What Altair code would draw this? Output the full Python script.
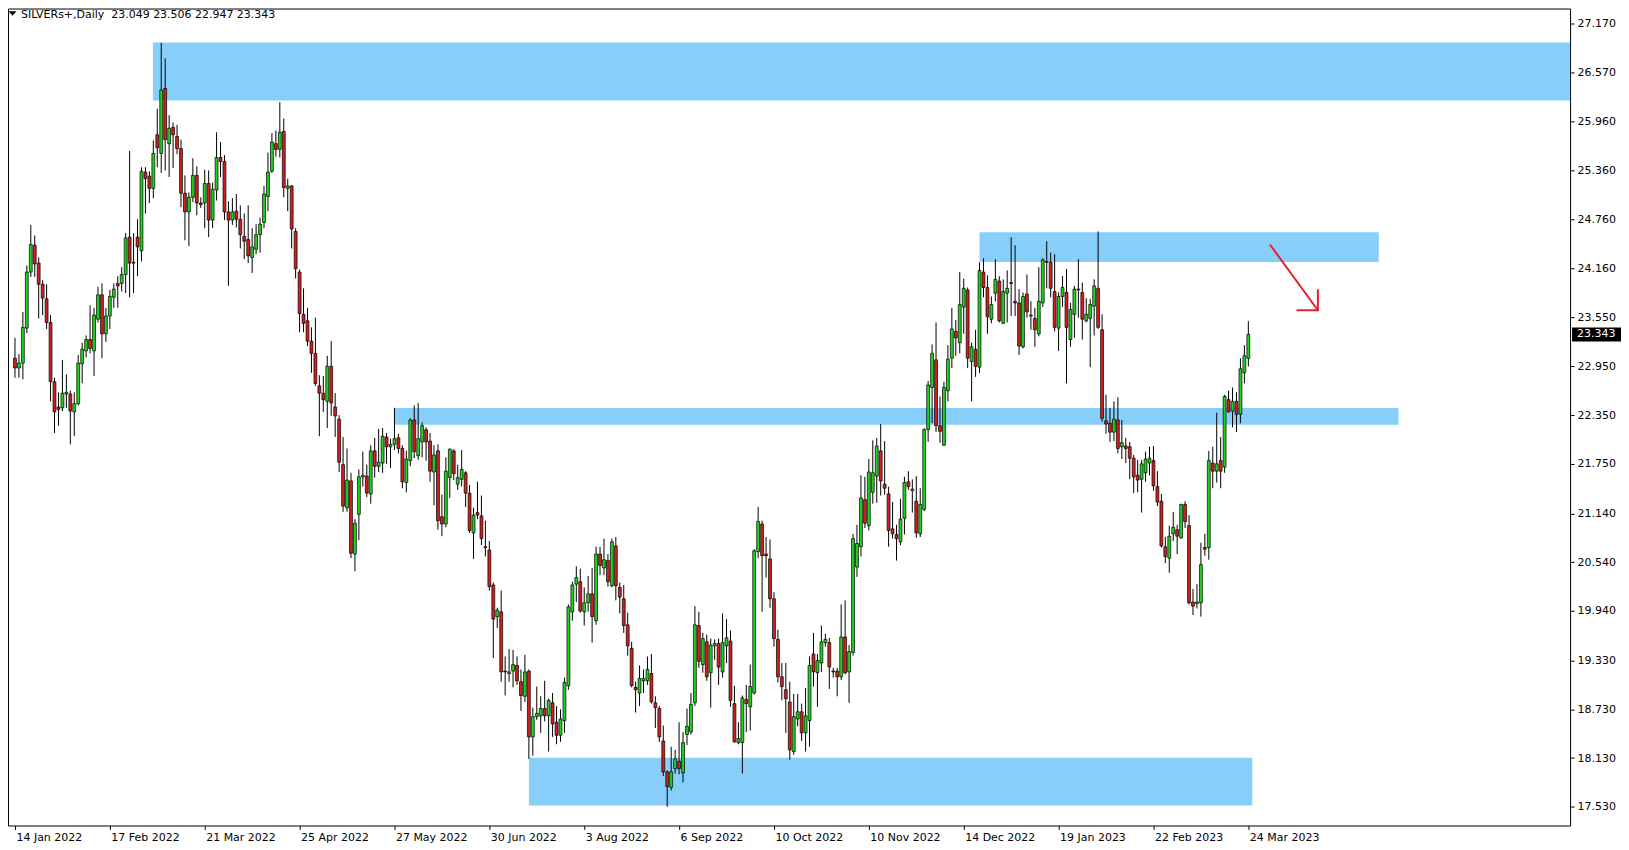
import altair as alt
import pandas as pd

symbol = "SILVERs+,Daily"

opens = [
    23.05, 22.93, 22.99, 23.42, 24.11, 24.44, 24.22, 23.96, 23.78, 23.49,
    22.76, 22.45, 22.44, 22.61, 22.61, 22.39, 22.49, 22.98, 23.14, 23.28,
    23.14, 23.53, 23.83, 23.35, 23.57, 23.80, 23.97, 23.97, 24.08, 24.54,
    24.23, 24.54, 24.37, 25.34, 25.29, 25.14, 25.80, 25.57, 26.37, 25.69,
    25.89, 25.78, 25.63, 25.08, 24.85, 25.03, 25.30, 24.96, 24.96, 25.20,
    24.75, 25.12, 25.52, 25.47, 24.85, 24.75, 24.86, 24.76, 24.55, 24.51,
    24.29, 24.39, 24.57, 24.72, 25.04, 25.35, 25.69, 25.62, 25.84, 25.14,
    25.17, 24.61, 24.11, 23.59, 23.51, 23.26, 23.11, 22.71, 22.62, 22.52,
    22.95, 22.45, 22.30, 21.74, 21.21, 21.54, 20.64, 21.13, 21.59, 21.60,
    21.38, 21.91, 21.72, 21.76, 22.08, 21.96, 21.99, 22.07, 21.94, 21.52,
    21.79, 22.29, 21.85, 22.02, 22.17, 22.03, 21.65, 21.91, 21.10, 21.01,
    21.58, 21.91, 21.50, 21.56, 21.64, 21.39, 20.90, 21.15, 21.11, 20.73,
    20.69, 20.26, 19.87, 19.93, 19.20, 19.17, 19.20, 19.27, 19.07, 18.89,
    19.20, 18.39, 18.64, 18.65, 18.74, 18.65, 18.81, 18.57, 18.41, 18.59,
    19.02, 19.93, 20.27, 20.30, 19.93, 20.04, 20.15, 19.82, 20.64, 20.47,
    20.56, 20.25, 20.74, 20.23, 20.09, 19.77, 19.48, 19.00, 18.93, 19.08,
    19.08, 19.17, 18.81, 18.74, 18.34, 17.96, 17.77, 18.00, 18.09, 17.95,
    18.42, 18.45, 18.81, 19.76, 19.28, 19.56, 19.18, 19.51, 19.54, 19.19,
    19.51, 19.57, 18.80, 18.32, 18.32, 18.85, 18.76, 18.93, 20.67, 21.01,
    20.64, 20.58, 20.09, 19.59, 19.13, 18.97, 18.82, 18.21, 18.61, 18.70,
    18.44, 18.59, 19.41, 19.18, 19.30, 19.55, 19.55, 19.20, 19.20, 19.13,
    19.62, 19.19, 19.43, 20.48, 20.73, 21.31, 20.99, 21.40, 21.60, 21.91,
    21.50, 21.38, 20.95, 20.88, 20.79, 21.08, 21.53, 21.42, 21.29, 20.89,
    21.19, 22.17, 22.69, 23.03, 22.22, 21.98, 22.65, 23.05, 23.38, 23.24,
    23.68, 23.89, 23.01, 23.16, 22.94, 24.11, 23.92, 23.53, 23.85, 24.00,
    23.48, 23.85, 23.98, 23.75, 23.73, 23.19, 23.84, 23.58, 23.54, 23.35,
    23.73, 24.24, 24.23, 23.87, 23.42, 23.81, 23.86, 23.28, 23.59, 23.90,
    23.86, 23.51, 23.54, 23.69, 23.91, 23.40, 22.28, 22.25, 22.14, 22.29,
    21.96, 21.97, 21.96, 21.82, 21.61, 21.56, 21.64, 21.76, 21.79, 21.47,
    21.29, 20.73, 20.59, 20.89, 20.94, 20.84, 21.25, 20.99, 20.05, 20.03,
    20.04, 20.72, 20.72, 21.76, 21.66, 21.79, 21.71, 22.54, 22.40, 22.52,
    22.36, 22.87, 23.049,
]

highs = [
    23.30, 23.10, 23.62, 24.19, 24.69, 24.56, 24.29, 24.01, 23.96, 23.58,
    22.81, 22.63, 23.03, 22.85, 22.65, 22.63, 23.09, 23.24, 23.33, 23.70,
    23.67, 23.93, 23.97, 23.67, 23.89, 23.97, 24.06, 24.17, 24.59, 25.60,
    24.59, 24.76, 25.40, 25.40, 25.35, 25.73, 26.12, 26.93, 26.74, 26.04,
    25.95, 25.92, 25.74, 25.30, 25.09, 25.51, 25.41, 25.03, 25.37, 25.36,
    25.21, 25.83, 25.71, 25.55, 24.98, 25.02, 25.07, 24.93, 24.83, 24.93,
    24.65, 24.70, 24.78, 25.17, 25.58, 25.82, 25.85, 26.20, 26.00, 25.26,
    25.18, 24.65, 24.14, 23.91, 23.67, 23.43, 23.55, 22.84, 22.83, 23.08,
    23.26, 22.62, 22.35, 22.08, 21.94, 21.64, 21.07, 21.68, 21.90, 21.74,
    21.98, 22.07, 22.18, 22.19, 22.13, 22.06, 22.44, 22.12, 21.98, 21.91,
    22.31, 22.47, 22.50, 22.26, 22.20, 22.13, 21.98, 21.99, 21.37, 21.83,
    21.94, 21.93, 21.74, 21.92, 21.66, 21.49, 21.21, 21.53, 21.36, 21.05,
    20.80, 20.29, 19.98, 20.19, 19.38, 19.47, 19.46, 19.38, 19.22, 19.40,
    19.22, 18.75, 19.01, 18.89, 19.08, 18.86, 18.93, 18.77, 18.73, 19.12,
    20.02, 20.30, 20.49, 20.46, 20.23, 20.37, 20.47, 20.73, 20.73, 20.83,
    20.64, 20.83, 20.85, 20.29, 20.26, 19.92, 19.56, 19.07, 19.27, 19.22,
    19.38, 19.41, 18.89, 18.77, 18.53, 17.98, 18.27, 18.23, 18.57, 18.45,
    18.74, 18.93, 20.00, 19.93, 19.67, 19.65, 19.60, 19.59, 19.60, 19.91,
    19.84, 19.70, 19.02, 18.57, 18.90, 19.03, 19.28, 20.70, 21.22, 21.05,
    20.85, 20.82, 20.17, 19.71, 19.30, 19.30, 19.07, 18.92, 18.92, 18.80,
    18.99, 19.38, 19.67, 19.41, 19.76, 19.66, 19.61, 19.24, 19.24, 20.02,
    20.07, 19.52, 20.89, 21.00, 21.61, 21.59, 21.81, 22.04, 22.07, 22.24,
    22.03, 21.47, 21.28, 21.00, 21.32, 21.59, 21.66, 21.56, 21.60, 21.45,
    22.19, 22.77, 23.22, 23.49, 22.58, 22.76, 23.21, 23.67, 23.52, 24.11,
    24.03, 23.92, 23.24, 23.40, 24.23, 24.28, 24.07, 23.81, 24.27, 24.06,
    24.02, 24.13, 24.54, 24.44, 23.90, 23.86, 24.08, 23.75, 23.67, 24.17,
    24.28, 24.49, 24.35, 24.33, 23.86, 24.06, 24.15, 23.73, 23.94, 24.27,
    23.98, 23.79, 23.78, 24.02, 24.61, 23.59, 22.60, 22.44, 22.52, 22.57,
    22.29, 22.07, 22.02, 21.86, 21.80, 21.80, 21.90, 21.96, 21.97, 21.66,
    21.38, 20.85, 20.99, 21.16, 21.00, 21.26, 21.29, 21.12, 20.21, 20.27,
    20.78, 20.89, 21.91, 21.96, 22.38, 22.08, 22.60, 22.65, 22.69, 22.63,
    23.05, 23.21, 23.506,
]

lows = [
    22.81, 22.81, 22.79, 23.36, 24.05, 24.05, 23.54, 23.58, 23.41, 22.52,
    22.13, 22.22, 22.40, 22.44, 21.99, 22.09, 22.47, 22.74, 23.06, 23.11,
    22.83, 23.49, 23.05, 23.25, 23.41, 23.67, 23.67, 23.87, 23.85, 23.80,
    23.85, 24.06, 24.24, 24.83, 24.96, 25.02, 25.40, 25.33, 25.36, 25.28,
    25.39, 25.56, 24.91, 24.50, 24.43, 24.97, 24.81, 24.90, 24.65, 24.54,
    24.65, 24.99, 25.28, 24.75, 23.94, 24.69, 24.66, 24.40, 24.27, 24.22,
    24.10, 24.33, 24.35, 24.65, 24.86, 25.33, 25.53, 25.52, 25.03, 24.86,
    24.40, 24.03, 23.37, 23.37, 23.20, 22.87, 22.71, 22.09, 22.39, 22.19,
    22.34, 22.08, 21.65, 21.16, 21.16, 20.59, 20.43, 20.81, 21.47, 21.34,
    21.26, 21.58, 21.65, 21.64, 21.75, 21.70, 21.92, 21.88, 21.45, 21.40,
    21.72, 21.82, 21.80, 21.83, 21.79, 21.53, 21.24, 20.94, 20.86, 20.97,
    21.33, 21.55, 21.43, 21.47, 21.22, 20.90, 20.58, 21.07, 20.75, 20.61,
    20.19, 19.36, 19.73, 19.07, 18.90, 19.07, 19.00, 19.03, 18.71, 18.82,
    18.12, 18.16, 18.60, 18.44, 18.58, 18.21, 18.39, 18.30, 18.33, 18.44,
    18.97, 19.82, 20.05, 19.92, 19.76, 19.93, 19.55, 19.77, 20.38, 20.38,
    20.24, 20.23, 20.07, 19.91, 19.67, 19.39, 19.00, 18.69, 18.77, 18.93,
    19.03, 18.80, 18.50, 18.33, 17.91, 17.53, 17.73, 17.94, 17.93, 17.83,
    18.29, 18.42, 18.77, 19.24, 19.18, 19.08, 18.75, 19.34, 19.03, 19.12,
    19.30, 18.76, 18.32, 18.30, 17.94, 18.45, 18.47, 18.91, 20.59, 19.93,
    20.35, 19.98, 19.50, 19.06, 18.84, 18.44, 18.11, 18.17, 18.52, 18.34,
    18.21, 18.27, 19.01, 18.76, 19.19, 19.50, 18.98, 19.12, 18.89, 19.09,
    19.16, 18.81, 19.39, 20.36, 20.61, 20.96, 20.93, 21.26, 21.27, 21.36,
    21.37, 20.73, 20.83, 20.56, 20.75, 20.88, 21.43, 21.15, 20.84, 20.85,
    21.17, 22.02, 22.25, 22.14, 22.01, 21.97, 22.52, 22.93, 23.08, 23.11,
    23.35, 22.93, 22.52, 22.82, 22.87, 23.80, 23.35, 23.48, 23.75, 23.49,
    23.47, 23.49, 23.57, 23.57, 23.09, 23.17, 23.55, 23.40, 23.19, 23.32,
    23.68, 23.91, 23.80, 23.38, 23.14, 23.68, 22.74, 23.19, 23.30, 23.55,
    23.28, 23.49, 22.94, 23.33, 23.41, 22.27, 22.12, 22.02, 22.03, 21.88,
    21.81, 21.76, 21.56, 21.39, 21.40, 21.15, 21.53, 21.61, 21.42, 21.23,
    20.72, 20.53, 20.41, 20.80, 20.64, 20.83, 20.96, 20.02, 19.89, 19.97,
    19.87, 20.62, 20.57, 21.45, 21.52, 21.45, 21.64, 22.38, 22.20, 22.14,
    22.25, 22.74, 22.947,
]

closes = [
    22.93, 22.99, 23.43, 24.11, 24.45, 24.21, 23.96, 23.79, 23.49, 22.76,
    22.39, 22.42, 22.62, 22.63, 22.40, 22.49, 22.99, 23.16, 23.28, 23.17,
    23.58, 23.83, 23.35, 23.57, 23.81, 23.90, 23.94, 24.08, 24.53, 24.22,
    24.22, 24.42, 25.35, 25.26, 25.14, 25.57, 25.64, 26.35, 25.74, 25.88,
    25.80, 25.63, 25.08, 24.85, 25.03, 25.30, 24.96, 24.94, 25.20, 24.75,
    25.13, 25.52, 25.47, 24.85, 24.75, 24.85, 24.76, 24.57, 24.49, 24.31,
    24.42, 24.57, 24.70, 25.07, 25.34, 25.71, 25.62, 25.83, 25.15, 25.17,
    24.64, 24.15, 23.60, 23.48, 23.26, 23.11, 22.74, 22.62, 22.54, 22.95,
    22.50, 22.34, 21.77, 21.23, 21.55, 20.65, 21.02, 21.59, 21.61, 21.39,
    21.91, 21.72, 21.77, 22.09, 21.96, 21.99, 22.06, 21.94, 21.53, 21.81,
    22.29, 21.90, 22.06, 22.22, 22.02, 21.66, 21.86, 21.05, 21.01, 21.66,
    21.93, 21.63, 21.58, 21.68, 21.39, 20.93, 21.12, 21.12, 20.83, 20.72,
    20.24, 19.84, 19.95, 19.19, 19.19, 19.19, 19.28, 19.08, 18.90, 19.19,
    18.39, 18.64, 18.68, 18.74, 18.65, 18.84, 18.55, 18.41, 18.61, 19.06,
    19.99, 20.26, 20.35, 19.94, 20.04, 20.15, 19.87, 20.64, 20.50, 20.57,
    20.30, 20.79, 20.25, 20.11, 19.76, 19.51, 19.02, 18.97, 19.11, 19.11,
    19.22, 18.82, 18.75, 18.39, 17.96, 17.78, 17.96, 18.12, 18.00, 18.32,
    18.52, 18.79, 19.77, 19.32, 19.60, 19.13, 19.52, 19.54, 19.25, 19.55,
    19.61, 18.84, 18.33, 18.37, 18.87, 18.80, 19.01, 20.68, 21.04, 20.62,
    20.62, 20.09, 19.60, 19.13, 19.01, 18.86, 18.23, 18.64, 18.70, 18.44,
    18.65, 19.27, 19.19, 19.33, 19.56, 19.59, 19.25, 19.19, 19.13, 19.62,
    19.18, 19.44, 20.83, 20.77, 21.33, 21.02, 21.65, 21.64, 21.97, 21.54,
    21.45, 20.93, 20.89, 20.83, 21.07, 21.52, 21.47, 21.44, 20.90, 21.25,
    22.17, 22.72, 23.11, 22.22, 22.15, 22.69, 23.04, 23.41, 23.30, 23.71,
    23.91, 23.05, 23.19, 22.95, 24.13, 23.92, 23.56, 23.71, 24.02, 23.51,
    23.87, 23.91, 23.97, 23.73, 23.20, 23.81, 23.62, 23.57, 23.40, 23.75,
    24.26, 24.23, 23.91, 23.43, 23.81, 23.92, 23.43, 23.65, 23.90, 23.89,
    23.53, 23.59, 23.71, 23.94, 23.43, 22.31, 22.24, 22.14, 22.30, 21.94,
    22.01, 21.94, 21.82, 21.59, 21.55, 21.75, 21.81, 21.82, 21.48, 21.28,
    20.74, 20.61, 20.86, 20.97, 20.86, 21.25, 21.04, 20.04, 20.00, 20.05,
    20.51, 20.70, 21.79, 21.66, 21.75, 21.66, 22.58, 22.39, 22.52, 22.36,
    22.92, 23.08, 23.343,
]

date_labels = [
    "14 Jan 2022", "17 Feb 2022", "21 Mar 2022", "25 Apr 2022", "27 May 2022",
    "30 Jun 2022", "3 Aug 2022", "6 Sep 2022", "10 Oct 2022", "10 Nov 2022",
    "14 Dec 2022", "19 Jan 2023", "22 Feb 2023", "24 Mar 2023",
]
bars_per_label = 24

price_ticks = [
    17.530, 18.130, 18.730, 19.330, 19.940, 20.540, 21.140, 21.750, 22.350,
    22.950, 23.550, 24.160, 24.760, 25.360, 25.960, 26.570, 27.170,
]

# supply / demand zones (bar index span, price span)
zone_start = [34.9, 96.0, 130.0, 244.0]
zone_end = [400.0, 350.0, 313.0, 345.0]
zone_top = [26.935, 22.437, 18.135, 24.600]
zone_bottom = [26.222, 22.231, 17.545, 24.235]

# hand-drawn red arrow (three strokes)
arrow_x = [317.6, 324.4, 329.6]
arrow_x2 = [329.6, 329.6, 329.6]
arrow_y = [24.44, 23.64, 23.89]
arrow_y2 = [23.64, 23.64, 23.64]

UP = "#1ed21e"
DOWN = "#d21e1e"
ZONE = "#87cefa"
ARROW = "#e8202a"
FONT = "DejaVu Sans"
W, H = 1564, 818

n = len(opens)
assert len(highs) == n and len(lows) == n and len(closes) == n

candles = pd.DataFrame({
    "bar": list(range(n)),
    "open": opens,
    "high": highs,
    "low": lows,
    "close": closes,
})
candles["dir"] = ["up" if c >= o else "down" for o, c in zip(opens, closes)]

zones = pd.DataFrame({"x1": zone_start, "x2": zone_end, "top": zone_top, "bottom": zone_bottom})
arrow = pd.DataFrame({"x": arrow_x, "x2": arrow_x2, "y": arrow_y, "y2": arrow_y2})
header = pd.DataFrame({
    "label": [symbol + "\u00a0\u00a0" + " ".join(f"{v:.3f}" for v in (opens[-1], highs[-1], lows[-1], closes[-1]))]
})
last = pd.DataFrame({"close": [closes[-1]], "label": [f"{closes[-1]:.3f}"]})

xscale = alt.Scale(domain=[-0.5, 392.125], nice=False, zero=False)
yscale = alt.Scale(domain=[17.300, 27.353], nice=False, zero=False)

label_expr = "[" + ",".join("'%s'" % d for d in date_labels) + "][round(datum.value / %d)]" % bars_per_label

xaxis = alt.Axis(
    values=[i * bars_per_label for i in range(len(date_labels))],
    labelExpr=label_expr, title=None, grid=False, domain=False,
    tickSize=4, tickColor="black", tickWidth=1,
    labelAlign="left", labelBaseline="top", labelPadding=2, labelOffset=1,
    labelFont=FONT, labelFontSize=11, labelColor="black",
    labelOverlap=False, labelFlush=False, labelBound=False,
)
yaxis = alt.Axis(
    orient="right", values=price_ticks, format=".3f", title=None, grid=False,
    domain=False, tickSize=4, tickColor="black", tickWidth=1, labelPadding=3,
    labelFont=FONT, labelFontSize=11, labelColor="black",
    labelOverlap=False, labelFlush=False, labelBaseline="middle",
)


def X(field):
    return alt.X(field, type="quantitative", scale=xscale, axis=xaxis)


def Y(field):
    return alt.Y(field, type="quantitative", scale=yscale, axis=yaxis)


zone_layer = alt.Chart(zones).mark_rect(color=ZONE, clip=True).encode(
    x=X("x1"), x2="x2", y=Y("top"), y2="bottom"
)
wick_layer = alt.Chart(candles).mark_rule(color="black", strokeWidth=1).encode(
    x=X("bar"), y=Y("low"), y2="high"
)
body_layer = alt.Chart(candles).mark_bar(width=2.9, stroke="black", strokeWidth=0.7).encode(
    x=X("bar"), y=Y("open"), y2="close",
    color=alt.Color("dir:N", scale=alt.Scale(domain=["up", "down"], range=[UP, DOWN]), legend=None),
)
arrow_layer = alt.Chart(arrow).mark_rule(color=ARROW, strokeWidth=2, strokeCap="round").encode(
    x=X("x"), x2="x2", y=Y("y"), y2="y2"
)
header_layer = alt.Chart(header).mark_text(
    align="left", baseline="alphabetic", font=FONT, fontSize=11, color="black"
).encode(x=alt.value(13), y=alt.value(9), text="label:N")
triangle_layer = alt.Chart(header).mark_point(
    shape="M-1,-0.54L1,-0.54L0,0.54Z", filled=True, color="black", size=64, opacity=1, strokeWidth=0
).encode(x=alt.value(4.5), y=alt.value(5))
pbox_layer = alt.Chart(last).mark_rect(color="black", yOffset=-7, y2Offset=7).encode(
    x=alt.value(W + 2), x2=alt.value(W + 51), y=Y("close"), y2="close"
)
ptext_layer = alt.Chart(last).mark_text(
    align="left", baseline="middle", color="white", font=FONT, fontSize=11
).encode(x=alt.value(W + 7), y=Y("close"), text="label:N")

chart = alt.layer(
    zone_layer, wick_layer, body_layer, arrow_layer,
    header_layer, triangle_layer, pbox_layer, ptext_layer,
).properties(
    width=W, height=H, padding=0, background="white"
).configure_view(stroke="black", strokeWidth=1)

chart.save("out.html", embed_options={"renderer": "svg", "actions": False})
